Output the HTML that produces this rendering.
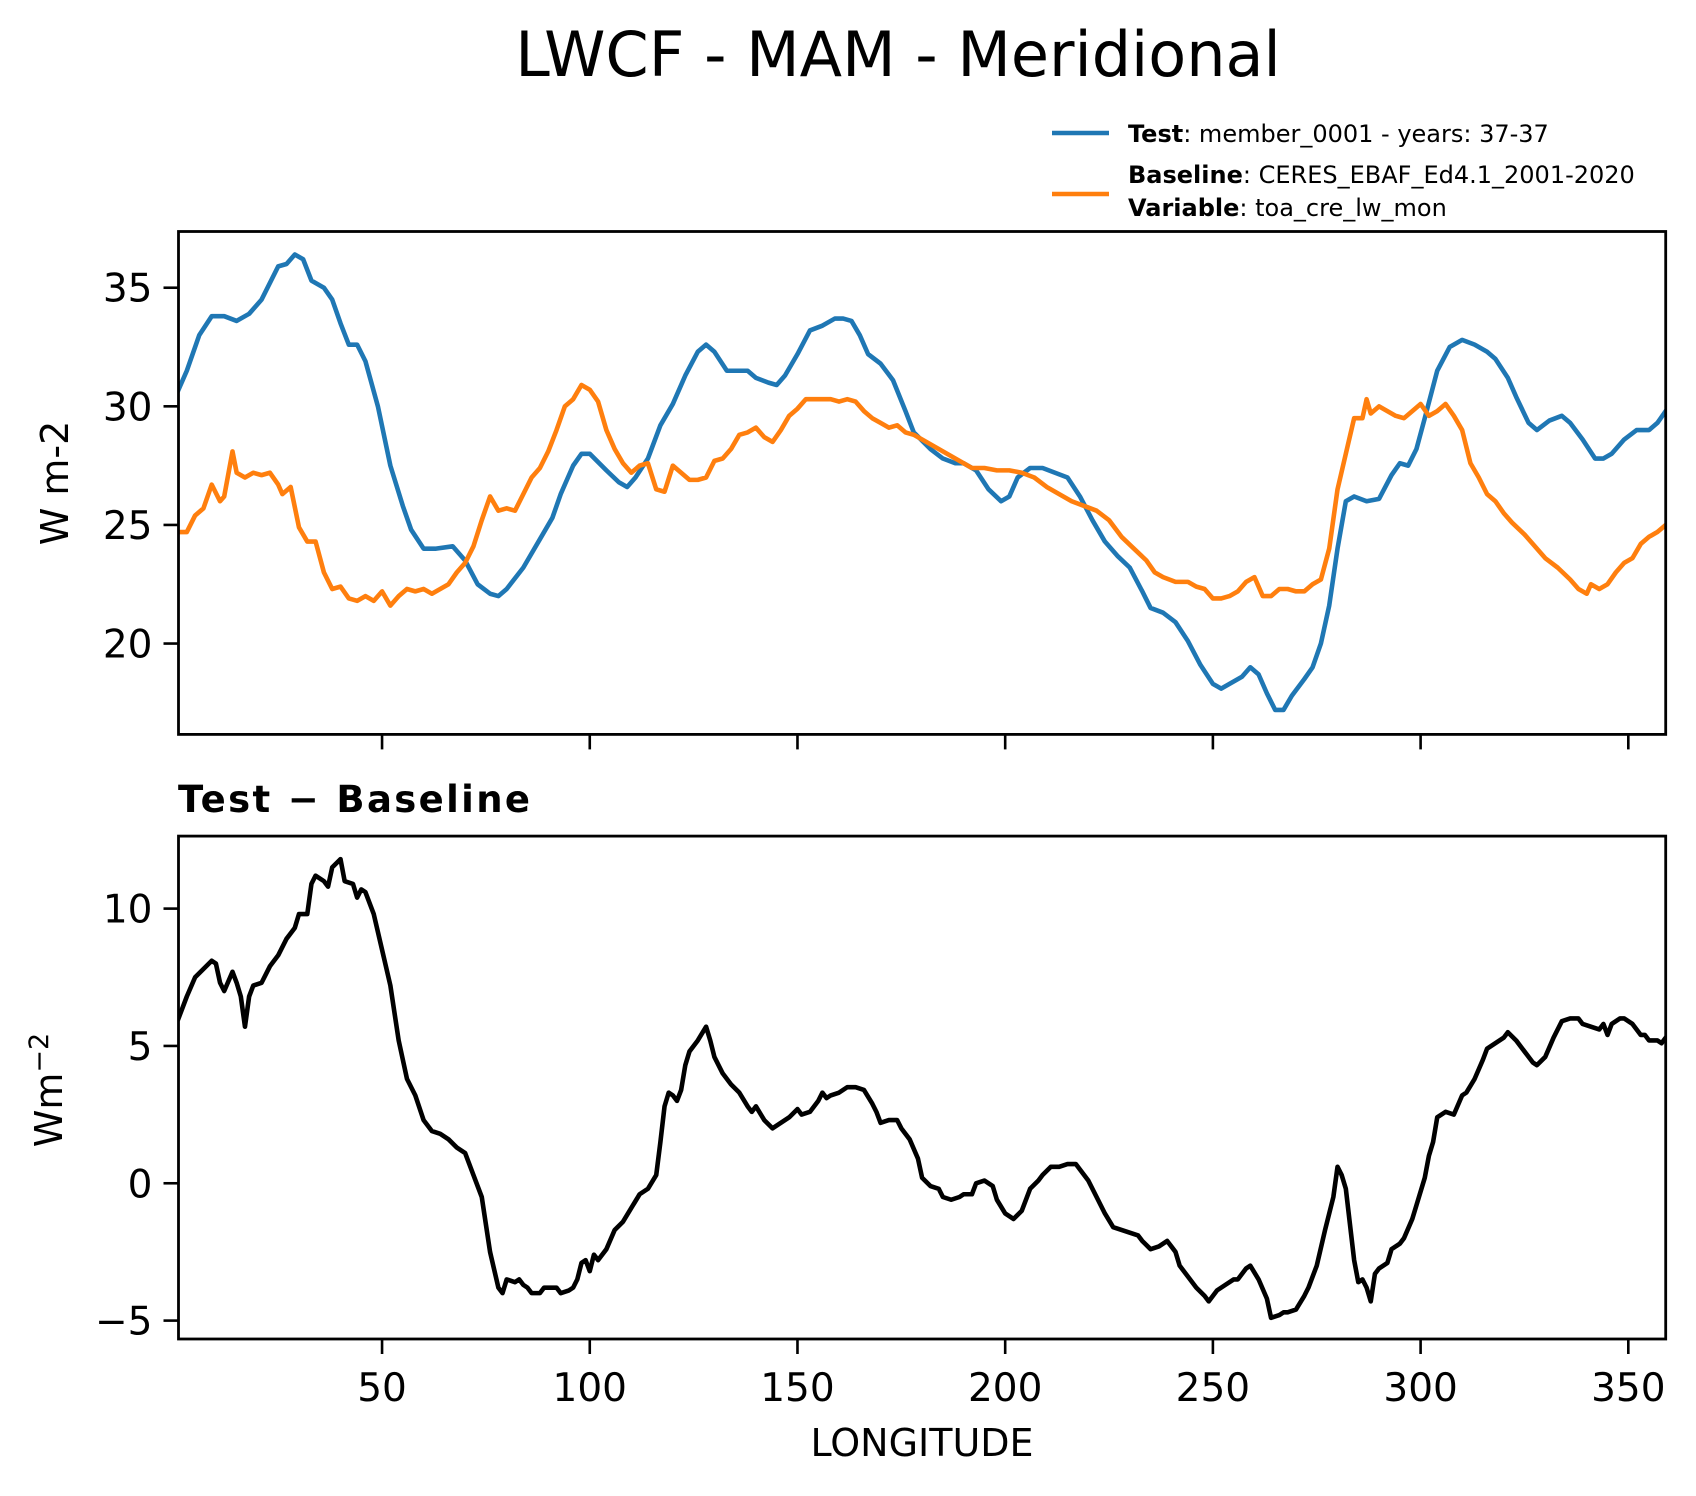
<!DOCTYPE html>
<html>
<head>
<meta charset="utf-8">
<style>
  html, body { margin: 0; padding: 0; background: #fff; }
  svg { display: block; font-family: "DejaVu Sans", "Liberation Sans", sans-serif; }
</style>
</head>
<body>
<svg id="chart" width="1696" height="1496" viewBox="0 0 1696 1496" xmlns="http://www.w3.org/2000/svg">
  <rect x="0" y="0" width="1696" height="1496" fill="#fff"/>
  <text x="898" y="76" font-size="62" text-anchor="middle" fill="#000">LWCF - MAM - Meridional</text>
  <g>
    <line x1="1052" y1="133" x2="1109" y2="133" stroke="#1f77b4" stroke-width="4.5"/>
    <text x="1128" y="142" font-size="24" fill="#000"><tspan font-weight="bold">Test</tspan>: member_0001 - years: 37-37</text>
    <line x1="1052" y1="194" x2="1109" y2="194" stroke="#ff7f0e" stroke-width="4.5"/>
    <text x="1128" y="183" font-size="24" fill="#000"><tspan font-weight="bold">Baseline</tspan>: CERES_EBAF_Ed4.1_2001-2020</text>
    <text x="1128" y="216" font-size="24" fill="#000"><tspan font-weight="bold">Variable</tspan>: toa_cre_lw_mon</text>
  </g>
  <text x="178" y="812" font-size="37" font-weight="bold" fill="#000" textLength="352">Test − Baseline</text>
  <text transform="translate(68,483) rotate(-90)" font-size="38" text-anchor="middle" fill="#000">W m-2</text>
  <text transform="translate(62,1090) rotate(-90)" font-size="38" text-anchor="middle" fill="#000">Wm<tspan dy="-14" font-size="27">−2</tspan></text>
  <text x="922" y="1456" font-size="38" text-anchor="middle" fill="#000">LONGITUDE</text>
  <g id="plots"></g>
</svg>
<script>
// ---- data ----
const testLon = [1,3,6,9,12,15,18,21,25,27,29,31,33,36,38,40,42,44,46,49,52,55,57,60,63,67,70,73,76,78,80,84,88,91,93,96,98,100,104,107,109,111,114,117,120,123,126,128,130,133,136,138,140,143,145,147,150,153,156,159,161,163,165,167,170,173,176,178,182,185,188,190,193,196,199,201,203,206,209,212,215,218,221,224,227,230,233,235,238,241,244,247,250,252,255,257,259,261,263,265,267,269,272,274,276,278,280,282,284,287,290,293,295,297,299,301,304,307,310,313,316,318,321,323,326,328,331,334,336,339,342,344,346,349,352,355,357,359];
const testVals = [30.7,31.5,33.0,33.8,33.8,33.6,33.9,34.5,35.9,36.0,36.4,36.2,35.3,35.0,34.5,33.5,32.6,32.6,31.9,30.0,27.5,25.8,24.8,24.0,24.0,24.1,23.5,22.5,22.1,22.0,22.3,23.2,24.4,25.3,26.3,27.5,28.0,28.0,27.3,26.8,26.6,27.0,27.8,29.2,30.1,31.3,32.3,32.6,32.3,31.5,31.5,31.5,31.2,31.0,30.9,31.3,32.2,33.2,33.4,33.7,33.7,33.6,33.0,32.2,31.8,31.1,29.8,28.9,28.2,27.8,27.6,27.6,27.3,26.5,26.0,26.2,27.0,27.4,27.4,27.2,27.0,26.2,25.2,24.3,23.7,23.2,22.2,21.5,21.3,20.9,20.1,19.1,18.3,18.1,18.4,18.6,19.0,18.7,17.9,17.2,17.2,17.8,18.5,19.0,20.0,21.6,24.0,26.0,26.2,26.0,26.1,27.1,27.6,27.5,28.2,29.5,31.5,32.5,32.8,32.6,32.3,32.0,31.2,30.4,29.3,29.0,29.4,29.6,29.3,28.6,27.8,27.8,28.0,28.6,29.0,29.0,29.3,29.8];
const baseLon = [1,3,5,7,9,11,12,14,15,17,19,21,23,25,26,28,30,32,34,36,38,40,42,44,46,48,50,52,54,56,58,60,62,64,66,68,70,72,74,76,78,80,82,84,86,88,90,92,94,96,98,100,102,104,106,108,110,112,114,116,118,120,122,124,126,128,130,132,134,136,138,140,142,144,146,148,150,152,154,156,158,160,162,164,166,168,170,172,174,176,178,180,183,186,189,192,195,198,201,204,207,210,213,216,219,222,225,228,231,234,236,238,241,244,246,248,250,252,254,256,258,260,262,264,266,268,270,272,274,276,278,280,282,284,286,287,288,290,292,294,296,298,300,302,304,306,308,310,312,314,316,318,320,322,325,328,330,333,336,338,340,341,343,345,347,349,351,353,355,357,359];
const baseVals = [24.7,24.7,25.4,25.7,26.7,26.0,26.2,28.1,27.2,27.0,27.2,27.1,27.2,26.7,26.3,26.6,24.9,24.3,24.3,23.0,22.3,22.4,21.9,21.8,22.0,21.8,22.2,21.6,22.0,22.3,22.2,22.3,22.1,22.3,22.5,23.0,23.4,24.1,25.2,26.2,25.6,25.7,25.6,26.3,27.0,27.4,28.1,29.0,30.0,30.3,30.9,30.7,30.2,29.0,28.2,27.6,27.2,27.5,27.6,26.5,26.4,27.5,27.2,26.9,26.9,27.0,27.7,27.8,28.2,28.8,28.9,29.1,28.7,28.5,29.0,29.6,29.9,30.3,30.3,30.3,30.3,30.2,30.3,30.2,29.8,29.5,29.3,29.1,29.2,28.9,28.8,28.6,28.3,28.0,27.7,27.4,27.4,27.3,27.3,27.2,27.0,26.6,26.3,26.0,25.8,25.6,25.2,24.5,24.0,23.5,23.0,22.8,22.6,22.6,22.4,22.3,21.9,21.9,22.0,22.2,22.6,22.8,22.0,22.0,22.3,22.3,22.2,22.2,22.5,22.7,24.0,26.5,28.0,29.5,29.5,30.3,29.7,30.0,29.8,29.6,29.5,29.8,30.1,29.6,29.8,30.1,29.6,29.0,27.6,27.0,26.3,26.0,25.5,25.1,24.6,24.0,23.6,23.2,22.7,22.3,22.1,22.5,22.3,22.5,23.0,23.4,23.6,24.2,24.5,24.7,25.0];
const diffLon = [1,3,5,7,9,10,11,12,14,15,16,17,18,19,21,23,25,27,29,30,32,33,34,36,37,38,40,41,43,44,45,46,48,50,52,54,56,58,60,62,64,66,68,70,72,74,75,76,78,79,80,82,83,84,85,86,88,89,90,92,93,95,96,97,98,99,100,101,102,104,106,108,110,112,114,116,117,118,119,120,121,122,123,124,126,128,129,130,132,134,136,138,139,140,142,144,146,148,150,151,153,155,156,157,158,160,162,164,166,168,169,170,172,174,175,177,179,180,182,184,185,187,189,190,192,193,195,197,198,200,202,204,206,208,209,211,213,215,217,219,220,222,224,226,228,230,232,233,235,237,238,239,240,241,242,244,246,248,249,251,253,255,256,258,259,261,263,264,266,267,268,270,272,273,275,277,279,280,281,282,283,284,285,286,287,288,289,290,292,293,295,296,298,299,301,302,303,304,306,308,310,311,313,315,316,318,320,321,323,325,327,328,330,332,334,336,338,339,341,343,344,345,346,348,349,351,352,353,354,355,357,358,359];
const diffVals = [6.0,6.8,7.5,7.8,8.1,8.0,7.3,7.0,7.7,7.3,6.8,5.7,6.8,7.2,7.3,7.9,8.3,8.9,9.3,9.8,9.8,10.9,11.2,11.0,10.8,11.5,11.8,11.0,10.9,10.4,10.7,10.6,9.8,8.5,7.2,5.2,3.8,3.2,2.3,1.9,1.8,1.6,1.3,1.1,0.3,-0.5,-1.5,-2.5,-3.8,-4.0,-3.5,-3.6,-3.5,-3.7,-3.8,-4.0,-4.0,-3.8,-3.8,-3.8,-4.0,-3.9,-3.8,-3.5,-2.9,-2.8,-3.2,-2.6,-2.8,-2.4,-1.7,-1.4,-0.9,-0.4,-0.2,0.3,1.5,2.8,3.3,3.2,3.0,3.4,4.3,4.8,5.2,5.7,5.2,4.6,4.0,3.6,3.3,2.8,2.6,2.8,2.3,2.0,2.2,2.4,2.7,2.5,2.6,3.0,3.3,3.1,3.2,3.3,3.5,3.5,3.4,2.9,2.6,2.2,2.3,2.3,2.0,1.6,0.9,0.2,-0.1,-0.2,-0.5,-0.6,-0.5,-0.4,-0.4,0.0,0.1,-0.1,-0.6,-1.1,-1.3,-1.0,-0.2,0.1,0.3,0.6,0.6,0.7,0.7,0.3,0.1,-0.5,-1.1,-1.6,-1.7,-1.8,-1.9,-2.1,-2.4,-2.3,-2.2,-2.1,-2.3,-2.5,-3.0,-3.4,-3.8,-4.1,-4.3,-3.9,-3.7,-3.5,-3.5,-3.1,-3.0,-3.5,-4.2,-4.9,-4.8,-4.7,-4.7,-4.6,-4.1,-3.8,-3.0,-1.7,-0.5,0.6,0.3,-0.2,-1.5,-2.8,-3.6,-3.5,-3.8,-4.3,-3.3,-3.1,-2.9,-2.4,-2.2,-2.0,-1.3,-0.8,0.2,1.0,1.5,2.4,2.6,2.5,3.2,3.3,3.8,4.5,4.9,5.1,5.3,5.5,5.2,4.8,4.4,4.3,4.6,5.3,5.9,6.0,6.0,5.8,5.7,5.6,5.8,5.4,5.8,6.0,6.0,5.8,5.6,5.4,5.4,5.2,5.2,5.1,5.3];
const xTicks = [50,100,150,200,250,300,350];
const topYTicks = [20,25,30,35];
const bottomYTicks = [-5,0,5,10];

// ---- layout ----
const L = 178.5, R = 1665.7;
const topP = {t:231.5, b:734.4, ymin:16.17, ymax:37.37};
const botP = {t:836.1, b:1339, ymin:-5.67, ymax:12.64};
const XMIN = 1, XMAX = 359;
const NS = 'http://www.w3.org/2000/svg';
const root = document.getElementById('plots');

function xs(v){ return L + (v - XMIN) / (XMAX - XMIN) * (R - L); }
function ysFor(p){ return v => p.b - (v - p.ymin) / (p.ymax - p.ymin) * (p.b - p.t); }
function mk(tag, attrs){
  const e = document.createElementNS(NS, tag);
  for (const k in attrs) e.setAttribute(k, attrs[k]);
  return e;
}
function fmt(v){ return v < 0 ? '\u2212' + Math.abs(v) : String(v); }

function drawPanel(p, name, yTicks, showXLabels, series){
  const ys = ysFor(p);
  const g = mk('g', {});
  
  
  root.appendChild(g);
  const cp = mk('clipPath', {id: name + '-clip'});
  cp.appendChild(mk('rect', {x: L, y: p.t, width: R - L, height: p.b - p.t}));
  g.appendChild(cp);
  series.forEach(s => {
    const d = s.lon.map((lo, i) => (i ? 'L' : 'M') + xs(lo).toFixed(2) + ' ' + ys(s.vals[i]).toFixed(2)).join(' ');
    const path = mk('path', {d: d, fill: 'none', stroke: s.color, 'stroke-width': 4.6, 'stroke-linejoin': 'round', 'stroke-linecap': 'square', 'clip-path': 'url(#' + name + '-clip)'});
    
    
    g.appendChild(path);
  });
  const frame = mk('rect', {x: L, y: p.t, width: R - L, height: p.b - p.t, fill: 'none', stroke: '#000', 'stroke-width': 2.8});
  
  
  g.appendChild(frame);
  yTicks.forEach(v => {
    const y = ys(v);
    const t = mk('line', {x1: L - 15, y1: y, x2: L, y2: y, stroke: '#000', 'stroke-width': 2.6});
    
    
    g.appendChild(t);
    const lb = mk('text', {x: L - 26, y: y + 14, 'font-size': 39, 'text-anchor': 'end', fill: '#000'});
    lb.textContent = fmt(v);
    
    
    g.appendChild(lb);
  });
  xTicks.forEach(v => {
    const x = xs(v);
    const t = mk('line', {x1: x, y1: p.b, x2: x, y2: p.b + 15, stroke: '#000', 'stroke-width': 2.6});
    
    
    g.appendChild(t);
    if (showXLabels){
      const lb = mk('text', {x: x, y: p.b + 62, 'font-size': 39, 'text-anchor': 'middle', fill: '#000'});
      lb.textContent = fmt(v);
      
      
      g.appendChild(lb);
    }
  });
}

drawPanel(topP, 'top', topYTicks, false, [
  {lon: testLon, vals: testVals, color: '#1f77b4', name: 'test-line'},
  {lon: baseLon, vals: baseVals, color: '#ff7f0e', name: 'baseline-line'}
]);
drawPanel(botP, 'bottom', bottomYTicks, true, [
  {lon: diffLon, vals: diffVals, color: '#000000', name: 'difference-line'}
]);
</script>
</body>
</html>
